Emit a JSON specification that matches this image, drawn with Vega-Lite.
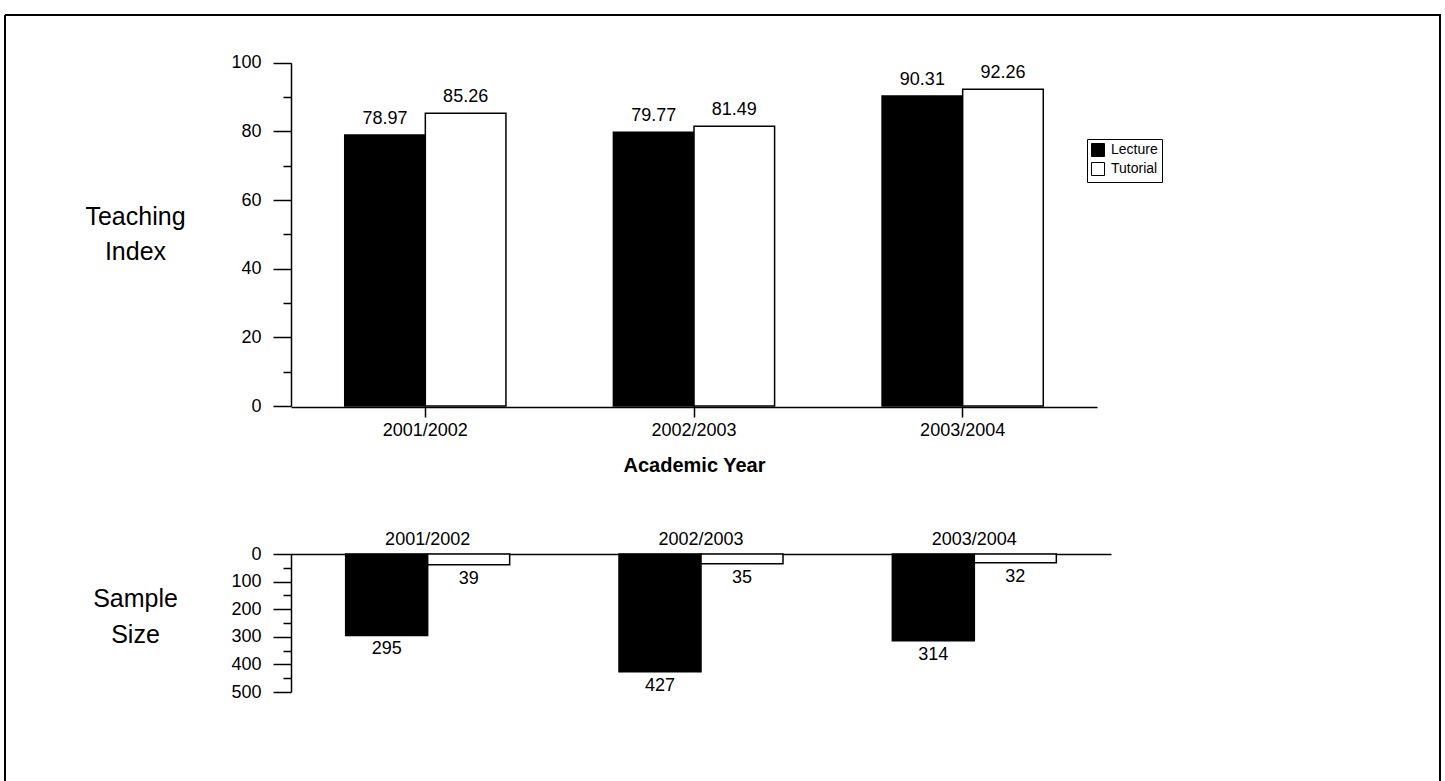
{
  "$schema": "https://vega.github.io/schema/vega-lite/v6.json",
  "width": 1435,
  "height": 766,
  "autosize": {"type": "none"},
  "padding": {"left": 5, "top": 15, "right": 5, "bottom": 0},
  "config": {
    "view": {"stroke": "black", "strokeWidth": 2, "strokeDash": [2201, 1435, 766, 0]},
    "font": "Liberation Sans",
    "axis": {"domainColor": "black", "tickColor": "black", "labelColor": "black", "titleColor": "black", "grid": false, "labelFont": "Liberation Sans", "titleFont": "Liberation Sans", "domainWidth": 1.5, "tickWidth": 1.5, "labelOverlap": false},
    "text": {"font": "Liberation Sans", "color": "black"}
  },
  "datasets": {
    "teaching": [
      {"year": "2001/2002", "type": "Lecture", "value": 78.97},
      {"year": "2001/2002", "type": "Tutorial", "value": 85.26},
      {"year": "2002/2003", "type": "Lecture", "value": 79.77},
      {"year": "2002/2003", "type": "Tutorial", "value": 81.49},
      {"year": "2003/2004", "type": "Lecture", "value": 90.31},
      {"year": "2003/2004", "type": "Tutorial", "value": 92.26}
    ],
    "sample": [
      {"year": "2001/2002", "type": "Lecture", "n": 295},
      {"year": "2001/2002", "type": "Tutorial", "n": 39},
      {"year": "2002/2003", "type": "Lecture", "n": 427},
      {"year": "2002/2003", "type": "Tutorial", "n": 35},
      {"year": "2003/2004", "type": "Lecture", "n": 314},
      {"year": "2003/2004", "type": "Tutorial", "n": 32}
    ]
  },
  "layer": [
    {
      "data": {"name": "teaching"},
      "encoding": {
        "x": {
          "field": "year", "type": "nominal", "sort": null,
          "scale": {"range": [286, 1092], "paddingInner": 0.4, "paddingOuter": 0.2},
          "axis": {"orient": "bottom", "offset": -374, "title": "Academic Year", "labelAngle": 0, "labelFontSize": 18, "tickSize": 10, "labelPadding": 4, "titleFontSize": 20, "titleFontWeight": "bold", "titlePadding": 16}
        },
        "y": {
          "field": "value", "type": "quantitative", "stack": null,
          "scale": {"domain": [0, 100], "range": [391, 47.7], "nice": false, "zero": true},
          "axis": {
            "orient": "left", "offset": -286,
            "values": [0, 10, 20, 30, 40, 50, 60, 70, 80, 90, 100],
            "labelExpr": "datum.value % 20 === 0 ? datum.label : ''",
            "tickSize": {"condition": {"test": "datum.value % 20 === 0", "value": 18}, "value": 8},
            "labelFontSize": 18, "labelPadding": 12,
            "title": ["Teaching", "Index"], "titleAngle": 0, "titleX": -156, "titleY": 201,
            "titleAlign": "center", "titleBaseline": "middle", "titleFontSize": 25, "titleFontWeight": "normal", "titleLineHeight": 35
          }
        },
        "xOffset": {"field": "type", "type": "nominal", "sort": ["Lecture", "Tutorial"]}
      },
      "layer": [
        {
          "mark": {"type": "bar", "stroke": "black", "strokeWidth": 1.5},
          "encoding": {
            "color": {
              "field": "type", "type": "nominal",
              "scale": {"domain": ["Lecture", "Tutorial"], "range": ["black", "white"]},
              "legend": {"orient": "none", "legendX": 1082, "legendY": 124, "title": null, "strokeColor": "black", "padding": 4, "labelFontSize": 14, "labelFont": "Liberation Sans", "labelColor": "black", "symbolType": "square", "symbolSize": 169, "symbolStrokeColor": "black", "symbolStrokeWidth": 1, "rowPadding": 1, "labelOffset": 6, "cornerRadius": 0}
            }
          }
        },
        {
          "mark": {"type": "text", "baseline": "bottom", "dy": -7, "fontSize": 18},
          "encoding": {"text": {"field": "value", "type": "quantitative", "format": ".2f"}}
        }
      ]
    },
    {
      "data": {"name": "sample"},
      "encoding": {
        "x": {
          "field": "year", "type": "nominal", "sort": null,
          "scale": {"range": [286, 1106], "paddingInner": 0.4, "paddingOuter": 0.2},
          "axis": {"orient": "top", "offset": -539, "title": null, "labelAngle": 0, "labelFontSize": 18, "tickSize": 0, "labelPadding": 6}
        },
        "y": {
          "field": "n", "type": "quantitative", "stack": null,
          "scale": {"domain": [0, 500], "range": [539, 677], "nice": false, "zero": true},
          "axis": {
            "orient": "left", "offset": -286,
            "values": [0, 50, 100, 150, 200, 250, 300, 350, 400, 450, 500],
            "labelExpr": "datum.value % 100 === 0 ? datum.label : ''",
            "tickSize": {"condition": {"test": "datum.value % 100 === 0", "value": 18}, "value": 8},
            "labelFontSize": 18, "labelPadding": 12,
            "title": ["Sample", "Size"], "titleAngle": 0, "titleX": -156, "titleY": 583,
            "titleAlign": "center", "titleBaseline": "middle", "titleFontSize": 25, "titleFontWeight": "normal", "titleLineHeight": 36
          }
        },
        "xOffset": {"field": "type", "type": "nominal", "sort": ["Lecture", "Tutorial"]}
      },
      "layer": [
        {
          "mark": {"type": "bar", "stroke": "black", "strokeWidth": 1.5},
          "encoding": {
            "color": {"field": "type", "type": "nominal", "legend": null}
          }
        },
        {
          "mark": {"type": "text", "baseline": "top", "dy": 5, "fontSize": 18},
          "encoding": {"text": {"field": "n", "type": "quantitative"}}
        }
      ]
    }
  ],
  "resolve": {
    "scale": {"x": "independent", "y": "independent", "xOffset": "independent"},
    "axis": {"x": "independent", "y": "independent"}
  }
}
